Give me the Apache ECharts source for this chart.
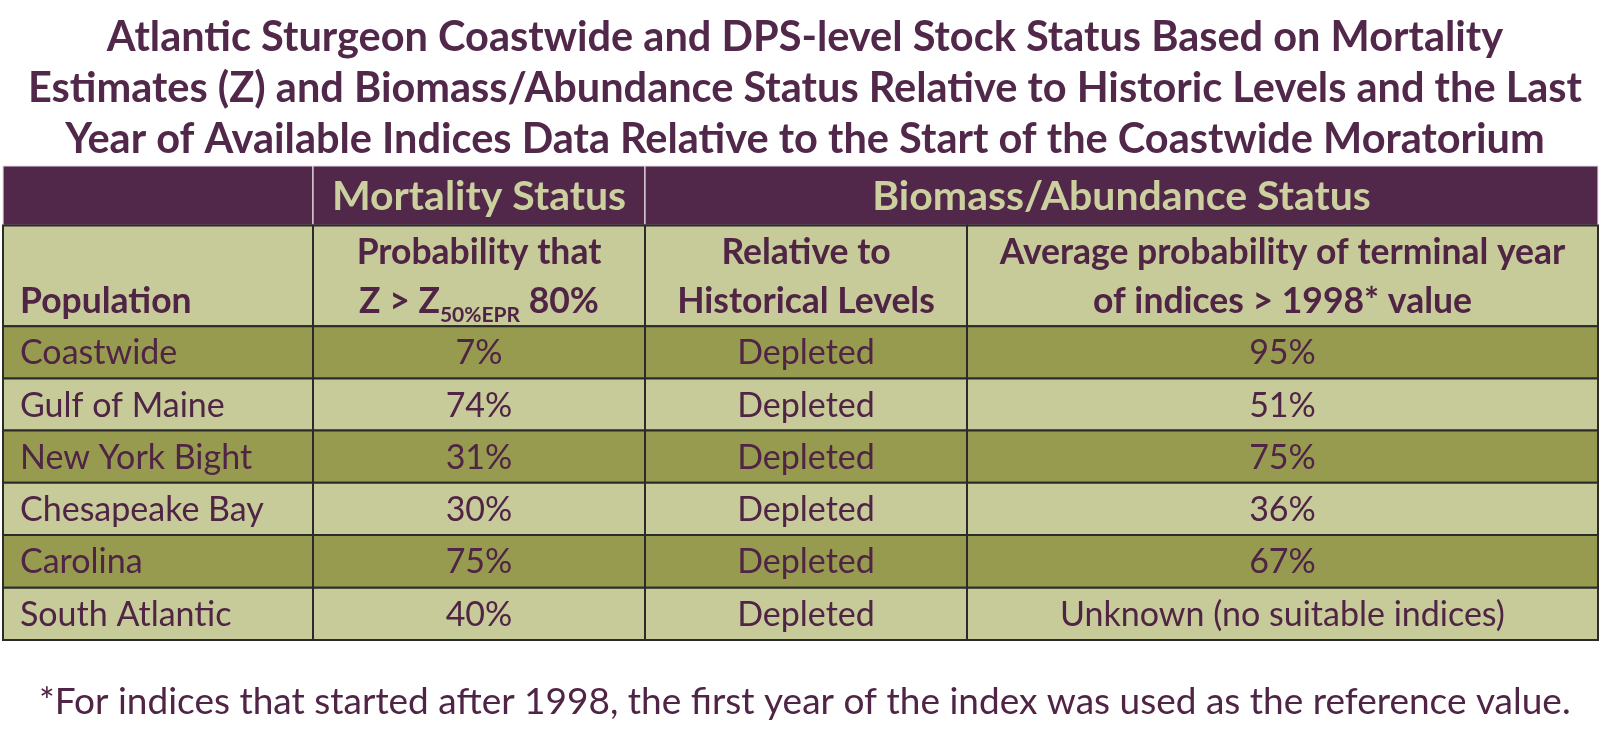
<!DOCTYPE html>
<html>
<head>
<meta charset="utf-8">
<script src="https://cdn.jsdelivr.net/npm/echarts@6/dist/echarts.min.js"></script>
<style>
html,body{margin:0;padding:0;background:#fff;}
#chart{width:1600px;height:737px;}
</style>
</head>
<body>
<div id="chart"></div>
<script>
// ---- data ----
var titleText = 'Atlantic Sturgeon Coastwide and DPS-level Stock Status Based on Mortality\nEstimates (Z) and Biomass/Abundance Status Relative to Historic Levels and the Last\nYear of Available Indices Data Relative to the Start of the Coastwide Moratorium';
var footnoteText = '*For indices that started after 1998, the first year of the index was used as the reference value.';
var groupHeaders = ['', 'Mortality Status', 'Biomass/Abundance Status'];
var columnHeaders = ['Population', 'Probability that\nZ > Z{sub|50%EPR} {b|80%}', 'Relative to\nHistorical Levels', 'Average probability of terminal year\nof indices > 1998* value'];
var populations = ['Coastwide', 'Gulf of Maine', 'New York Bight', 'Chesapeake Bay', 'Carolina', 'South Atlantic'];
var mortalityProb = ['7%', '74%', '31%', '30%', '75%', '40%'];
var relativeHistoric = ['Depleted', 'Depleted', 'Depleted', 'Depleted', 'Depleted', 'Depleted'];
var terminalProb = ['95%', '51%', '75%', '36%', '67%', 'Unknown (no suitable indices)'];

// ---- layout (not data) ----
var colWidths = [310, 332, 322, 631];
var rowHeights = [59.5, 101, 52.2, 52.2, 52.2, 52.2, 53, 52.2];
var colEdges = [0]; colWidths.forEach(function (w) { colEdges.push(colEdges[colEdges.length - 1] + w); });
var rowEdges = [0]; rowHeights.forEach(function (h) { rowEdges.push(rowEdges[rowEdges.length - 1] + h); });

var PURPLE = '#52284a', LIGHT = '#c7ca99', DARK = '#979b50', TEXT = '#4f2444', HEADTXT = '#ccd09f';
var FONT = 'Lato';

var cells = [];
// group header row
cells.push({c0: 0, c1: 1, r: 0, fill: PURPLE, text: groupHeaders[0]});
cells.push({c0: 1, c1: 2, r: 0, fill: PURPLE, text: groupHeaders[1], color: HEADTXT, bold: true, size: 41, align: 'center'});
cells.push({c0: 2, c1: 4, r: 0, fill: PURPLE, text: groupHeaders[2], color: HEADTXT, bold: true, size: 41, align: 'center'});
// column header row
columnHeaders.forEach(function (t, i) {
  cells.push({c0: i, c1: i + 1, r: 1, fill: LIGHT, text: i === 0 ? '\n' + t : t, color: TEXT, bold: true, size: 35.5, align: i === 0 ? 'left' : 'center', lh: 49});
});
// data rows
populations.forEach(function (p, k) {
  var fill = k % 2 === 0 ? DARK : LIGHT;
  var vals = [p, mortalityProb[k], relativeHistoric[k], terminalProb[k]];
  vals.forEach(function (v, i) {
    cells.push({c0: i, c1: i + 1, r: k + 2, fill: fill, text: v, color: TEXT, bold: false, size: 34, align: i === 0 ? 'left' : 'center'});
  });
});

var chart = echarts.init(document.getElementById('chart'), null, {renderer: 'canvas'});

function renderCell(params, api) {
  var c = cells[params.dataIndex];
  var p0 = api.coord([colEdges[c.c0], rowEdges[c.r]]);
  var p1 = api.coord([colEdges[c.c1], rowEdges[c.r + 1]]);
  var x = p0[0], y = p0[1], w = p1[0] - p0[0], h = p1[1] - p0[1];
  var children = [{
    type: 'rect',
    shape: {x: x, y: y, width: w, height: h},
    style: {fill: c.fill, stroke: c.r === 0 ? '#e8dde4' : '#2b2b2b', lineWidth: c.r === 0 ? 1.2 : 2}
  }];
  if (c.text) {
    var weight = c.bold ? 'bold' : 'normal';
    var lh = c.lh || Math.round(c.size * 1.2);
    children.push({
      type: 'text',
      style: {
        text: c.text,
        x: c.align === 'left' ? x + 17 : x + w / 2,
        y: y + h / 2 + 1,
        align: c.align,
        verticalAlign: 'middle',
        fill: c.color,
        font: weight + ' ' + c.size + 'px ' + FONT,
        lineHeight: lh,
        rich: {
          b: {fontFamily: FONT, fontWeight: weight, fontSize: c.size, fill: c.color, lineHeight: lh},
          sub: {fontFamily: FONT, fontWeight: 'bold', fontSize: 21, fill: c.color, verticalAlign: 'bottom', padding: [6, 0, 0, 0], lineHeight: lh}
        }
      }
    });
  }
  return {type: 'group', children: children};
}

var option = {
  backgroundColor: '#ffffff',
  animation: false,
  title: [{
    text: titleText,
    left: 800,
    top: 7,
    textAlign: 'center',
    textStyle: {fontFamily: FONT, fontWeight: 'bold', fontSize: 41.5, color: PURPLE, lineHeight: 51}
  }, {
    text: footnoteText,
    left: 34,
    top: 677,
    textStyle: {fontFamily: FONT, fontWeight: 'normal', fontSize: 37, color: TEXT, lineHeight: 40}
  }],
  grid: {left: 3, right: 2, top: 166, bottom: 97},
  xAxis: {type: 'value', min: 0, max: colEdges[colEdges.length - 1], show: false},
  yAxis: {type: 'value', min: 0, max: rowEdges[rowEdges.length - 1], inverse: true, show: false},
  series: [{
    type: 'custom',
    coordinateSystem: 'cartesian2d',
    renderItem: renderCell,
    data: cells.map(function (c, i) { return [colEdges[c.c0], rowEdges[c.r], i]; }),
    silent: true,
    clip: false
  }]
};
chart.setOption(option);
</script>
</body>
</html>
